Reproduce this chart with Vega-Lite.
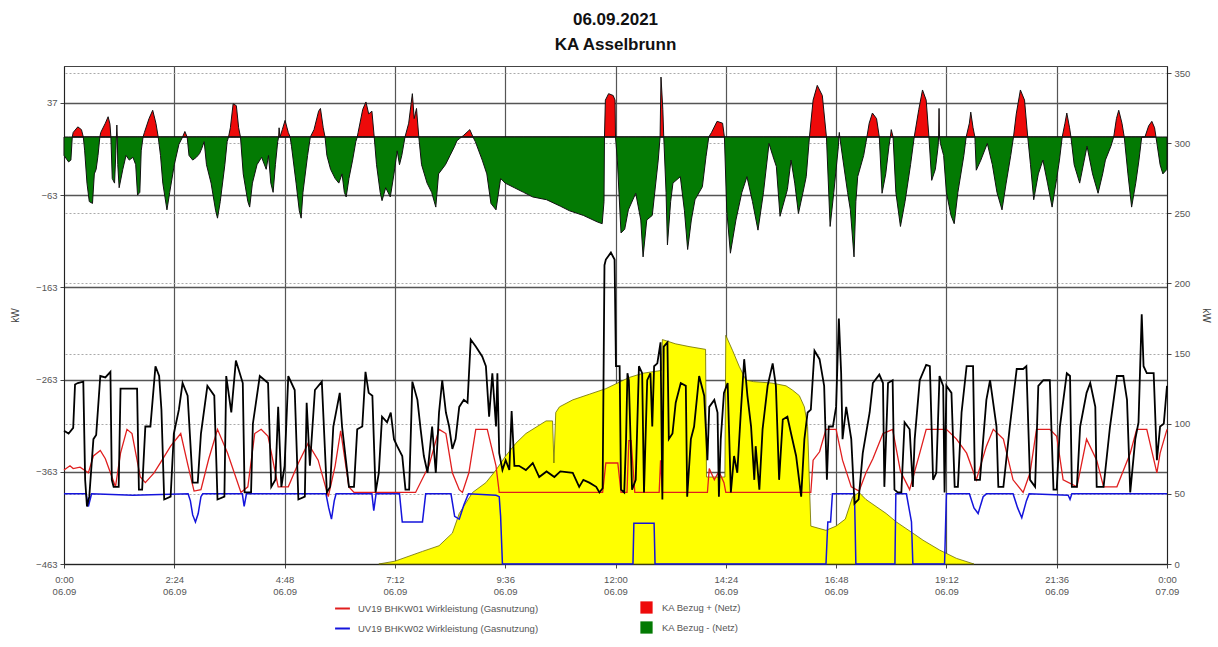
{
"$schema": "https://vega.github.io/schema/vega-lite/v6.json",
"width": 1103, "height": 498,
"autosize": "none",
"padding": {"left": 64, "top": 66, "right": 51, "bottom": 83},
"background": "white",
"config": {"font": "Liberation Sans", "view": {"stroke": "#444", "strokeWidth": 1}},
"title": {"text": "06.09.2021", "subtitle": "KA Asselbrunn", "fontSize": 17, "subtitleFontSize": 17, "fontWeight": "bold", "subtitleFontWeight": "bold", "color": "#111", "subtitleColor": "#111", "anchor": "middle", "offset": 12, "subtitlePadding": 8, "font": "Liberation Sans", "subtitleFont": "Liberation Sans"},
"datasets": {
"bezug": [
{"h":0,"v":-20},{"h":0.1,"v":-27},{"h":0.15,"v":-25},{"h":0.18,"v":0},{"h":0.2,"v":5},{"h":0.3,"v":11},{"h":0.38,"v":8},{"h":0.42,"v":0},{"h":0.45,"v":-15},{"h":0.5,"v":-50},{"h":0.55,"v":-70},{"h":0.62,"v":-72},{"h":0.66,"v":-40},{"h":0.7,"v":-35},{"h":0.74,"v":-20},{"h":0.78,"v":0},{"h":0.8,"v":5},{"h":0.9,"v":15},{"h":0.96,"v":22},{"h":1.0,"v":14},{"h":1.02,"v":0},{"h":1.05,"v":-45},{"h":1.1,"v":-50},{"h":1.13,"v":-15},{"h":1.14,"v":0},{"h":1.15,"v":13},{"h":1.16,"v":0},{"h":1.17,"v":-30},{"h":1.2,"v":-55},{"h":1.28,"v":-35},{"h":1.35,"v":-20},{"h":1.42,"v":-25},{"h":1.5,"v":-22},{"h":1.56,"v":-30},{"h":1.6,"v":-63},{"h":1.65,"v":-60},{"h":1.68,"v":-15},{"h":1.72,"v":0},{"h":1.75,"v":5},{"h":1.85,"v":20},{"h":1.93,"v":29},{"h":2.0,"v":15},{"h":2.05,"v":0},{"h":2.1,"v":-20},{"h":2.15,"v":-50},{"h":2.24,"v":-79},{"h":2.3,"v":-60},{"h":2.4,"v":-30},{"h":2.5,"v":-8},{"h":2.58,"v":0},{"h":2.63,"v":6},{"h":2.68,"v":0},{"h":2.72,"v":-20},{"h":2.8,"v":-25},{"h":2.88,"v":-22},{"h":2.95,"v":-18},{"h":3.0,"v":-12},{"h":3.05,"v":-5},{"h":3.1,"v":-30},{"h":3.2,"v":-50},{"h":3.3,"v":-80},{"h":3.34,"v":-88},{"h":3.4,"v":-70},{"h":3.5,"v":-30},{"h":3.55,"v":-5},{"h":3.58,"v":0},{"h":3.62,"v":10},{"h":3.68,"v":36},{"h":3.75,"v":34},{"h":3.8,"v":10},{"h":3.84,"v":0},{"h":3.9,"v":-40},{"h":4.0,"v":-70},{"h":4.04,"v":-76},{"h":4.1,"v":-50},{"h":4.2,"v":-30},{"h":4.3,"v":-22},{"h":4.4,"v":-35},{"h":4.45,"v":-20},{"h":4.5,"v":-50},{"h":4.55,"v":-60},{"h":4.6,"v":-30},{"h":4.65,"v":-5},{"h":4.67,"v":0},{"h":4.68,"v":10},{"h":4.7,"v":0},{"h":4.75,"v":8},{"h":4.81,"v":18},{"h":4.88,"v":5},{"h":4.92,"v":0},{"h":4.95,"v":-10},{"h":5.05,"v":-50},{"h":5.12,"v":-80},{"h":5.16,"v":-88},{"h":5.2,"v":-60},{"h":5.3,"v":-20},{"h":5.36,"v":0},{"h":5.44,"v":8},{"h":5.54,"v":28},{"h":5.58,"v":31},{"h":5.64,"v":10},{"h":5.68,"v":0},{"h":5.72,"v":-20},{"h":5.8,"v":-35},{"h":5.9,"v":-45},{"h":5.98,"v":-50},{"h":6.05,"v":-40},{"h":6.1,"v":-60},{"h":6.14,"v":-65},{"h":6.2,"v":-45},{"h":6.28,"v":-25},{"h":6.35,"v":-5},{"h":6.38,"v":0},{"h":6.4,"v":5},{"h":6.5,"v":30},{"h":6.57,"v":38},{"h":6.63,"v":25},{"h":6.7,"v":28},{"h":6.75,"v":0},{"h":6.8,"v":-30},{"h":6.88,"v":-60},{"h":6.92,"v":-69},{"h":7.0,"v":-55},{"h":7.1,"v":-65},{"h":7.18,"v":-40},{"h":7.25,"v":-15},{"h":7.3,"v":-30},{"h":7.35,"v":-20},{"h":7.42,"v":0},{"h":7.5,"v":15},{"h":7.58,"v":47},{"h":7.62,"v":20},{"h":7.67,"v":31},{"h":7.72,"v":0},{"h":7.78,"v":-30},{"h":7.9,"v":-50},{"h":8.0,"v":-60},{"h":8.09,"v":-76},{"h":8.15,"v":-40},{"h":8.3,"v":-30},{"h":8.4,"v":-20},{"h":8.5,"v":-10},{"h":8.55,"v":-4},{"h":8.6,"v":-2},{"h":8.65,"v":0},{"h":8.7,"v":2},{"h":8.83,"v":8},{"h":8.9,"v":0},{"h":8.95,"v":-5},{"h":9.1,"v":-25},{"h":9.2,"v":-40},{"h":9.29,"v":-72},{"h":9.4,"v":-79},{"h":9.5,"v":-45},{"h":9.6,"v":-50},{"h":9.8,"v":-55},{"h":10.0,"v":-60},{"h":10.2,"v":-65},{"h":10.5,"v":-68},{"h":10.8,"v":-75},{"h":11.0,"v":-80},{"h":11.3,"v":-85},{"h":11.6,"v":-92},{"h":11.71,"v":-94},{"h":11.75,"v":-70},{"h":11.76,"v":0},{"h":11.78,"v":40},{"h":11.85,"v":47},{"h":11.95,"v":45},{"h":11.99,"v":40},{"h":12.0,"v":0},
{"h":12.04,"v":-25},{"h":12.12,"v":-104},{"h":12.2,"v":-100},{"h":12.28,"v":-79},{"h":12.44,"v":-61},{"h":12.55,"v":-90},{"h":12.6,"v":-130},{"h":12.68,"v":-90},{"h":12.8,"v":-85},{"h":12.93,"v":-25},{"h":12.97,"v":0},{"h":12.99,"v":65},{"h":13.03,"v":30},{"h":13.05,"v":0},{"h":13.1,"v":-60},{"h":13.13,"v":-117},{"h":13.2,"v":-70},{"h":13.25,"v":-50},{"h":13.41,"v":-43},{"h":13.5,"v":-80},{"h":13.57,"v":-122},{"h":13.65,"v":-90},{"h":13.73,"v":-68},{"h":13.89,"v":-54},{"h":13.97,"v":-21},{"h":14.03,"v":0},{"h":14.09,"v":5},{"h":14.21,"v":17},{"h":14.33,"v":15},{"h":14.37,"v":0},{"h":14.42,"v":-79},{"h":14.5,"v":-126},{"h":14.62,"v":-90},{"h":14.75,"v":-60},{"h":14.86,"v":-43},{"h":14.98,"v":-70},{"h":15.1,"v":-101},{"h":15.22,"v":-60},{"h":15.34,"v":-7},{"h":15.42,"v":-20},{"h":15.5,"v":-32},{"h":15.58,"v":-86},{"h":15.74,"v":-57},{"h":15.82,"v":-25},{"h":15.9,"v":-50},{"h":15.98,"v":-83},{"h":16.08,"v":-60},{"h":16.15,"v":-43},{"h":16.22,"v":0},{"h":16.3,"v":40},{"h":16.39,"v":56},{"h":16.5,"v":45},{"h":16.59,"v":0},{"h":16.67,"v":-97},{"h":16.75,"v":-60},{"h":16.85,"v":-10},{"h":16.86,"v":0},{"h":16.87,"v":5},{"h":16.88,"v":0},{"h":16.95,"v":-25},{"h":17.05,"v":-60},{"h":17.11,"v":-79},{"h":17.19,"v":-130},{"h":17.23,"v":-70},{"h":17.27,"v":-43},{"h":17.4,"v":-20},{"h":17.47,"v":0},{"h":17.52,"v":15},{"h":17.59,"v":26},{"h":17.68,"v":20},{"h":17.74,"v":0},{"h":17.8,"v":-61},{"h":17.88,"v":-40},{"h":17.95,"v":-10},{"h":17.98,"v":0},{"h":18.0,"v":8},{"h":18.04,"v":0},{"h":18.1,"v":-60},{"h":18.2,"v":-97},{"h":18.3,"v":-70},{"h":18.42,"v":-30},{"h":18.5,"v":0},{"h":18.6,"v":30},{"h":18.68,"v":51},{"h":18.76,"v":40},{"h":18.82,"v":0},{"h":18.88,"v":-47},{"h":18.96,"v":-35},{"h":19.02,"v":-10},{"h":19.03,"v":0},{"h":19.04,"v":31},{"h":19.05,"v":0},{"h":19.07,"v":-7},{"h":19.14,"v":-20},{"h":19.2,"v":-60},{"h":19.3,"v":-85},{"h":19.37,"v":-94},{"h":19.45,"v":-60},{"h":19.58,"v":-20},{"h":19.63,"v":0},{"h":19.7,"v":15},{"h":19.73,"v":27},{"h":19.78,"v":10},{"h":19.82,"v":0},{"h":19.85,"v":-36},{"h":19.95,"v":-25},{"h":20.09,"v":-7},{"h":20.2,"v":-30},{"h":20.3,"v":-60},{"h":20.41,"v":-79},{"h":20.5,"v":-50},{"h":20.6,"v":-20},{"h":20.66,"v":0},{"h":20.72,"v":25},{"h":20.81,"v":51},{"h":20.9,"v":40},{"h":20.97,"v":0},{"h":21.03,"v":-30},{"h":21.1,"v":-68},{"h":21.2,"v":-40},{"h":21.3,"v":-25},{"h":21.4,"v":-50},{"h":21.5,"v":-76},{"h":21.6,"v":-45},{"h":21.66,"v":-25},{"h":21.72,"v":0},{"h":21.78,"v":15},{"h":21.82,"v":26},{"h":21.88,"v":10},{"h":21.91,"v":0},{"h":21.98,"v":-30},{"h":22.1,"v":-50},{"h":22.2,"v":-25},{"h":22.26,"v":-10},{"h":22.38,"v":-40},{"h":22.5,"v":-61},{"h":22.6,"v":-40},{"h":22.66,"v":-25},{"h":22.78,"v":-10},{"h":22.84,"v":0},{"h":22.9,"v":20},{"h":22.95,"v":29},{"h":23.02,"v":15},{"h":23.07,"v":0},{"h":23.15,"v":-40},{"h":23.23,"v":-76},{"h":23.32,"v":-50},{"h":23.39,"v":-25},{"h":23.45,"v":0},{"h":23.52,"v":0},{"h":23.6,"v":12},{"h":23.67,"v":17},{"h":23.73,"v":10},{"h":23.76,"v":0},{"h":23.85,"v":-30},{"h":23.91,"v":-40},{"h":24.0,"v":-35}
],
"yellow": [
{"h":6.85,"k":0},{"h":7.2,"k":2},{"h":7.8,"k":9},{"h":8.16,"k":13},{"h":8.45,"k":22},{"h":8.6,"k":36},{"h":8.89,"k":51},{"h":9.18,"k":58},{"h":9.4,"k":67},{"h":9.61,"k":77},{"h":9.83,"k":86},{"h":10.05,"k":93},{"h":10.49,"k":102},{"h":10.63,"k":102},{"h":10.66,"k":72},{"h":10.7,"k":108},{"h":10.78,"k":112},{"h":11.07,"k":117},{"h":11.43,"k":121},{"h":11.79,"k":125},{"h":12.3,"k":133},{"h":12.6,"k":136},{"h":13.0,"k":138},{"h":13.02,"k":160},{"h":13.3,"k":157},{"h":13.6,"k":155},{"h":13.96,"k":153},{"h":13.98,"k":62},{"h":14.38,"k":62},{"h":14.4,"k":163},{"h":14.55,"k":152},{"h":14.69,"k":141},{"h":14.84,"k":131},{"h":15.0,"k":130},{"h":15.4,"k":129},{"h":15.71,"k":127},{"h":15.85,"k":124},{"h":16.0,"k":120},{"h":16.11,"k":112},{"h":16.18,"k":98},{"h":16.25,"k":27},{"h":16.58,"k":24},{"h":16.8,"k":27},{"h":17.0,"k":32},{"h":17.16,"k":48},{"h":17.3,"k":51},{"h":17.45,"k":46},{"h":17.67,"k":41},{"h":17.89,"k":36},{"h":18.11,"k":30},{"h":18.47,"k":22},{"h":18.69,"k":17},{"h":19.05,"k":10},{"h":19.42,"k":4},{"h":19.8,"k":0}
],
"blue": [
{"h":0,"k":50},{"h":0.48,"k":50},{"h":0.53,"k":41},{"h":0.6,"k":50},{"h":1.5,"k":49},{"h":2.7,"k":50},{"h":2.75,"k":45},{"h":2.8,"k":35},{"h":2.86,"k":30},{"h":2.92,"k":36},{"h":2.98,"k":48},{"h":3.02,"k":50},{"h":3.88,"k":50},{"h":3.92,"k":41},{"h":3.97,"k":50},{"h":5.7,"k":50},{"h":5.76,"k":40},{"h":5.82,"k":32},{"h":5.88,"k":45},{"h":5.92,"k":50},{"h":6.7,"k":50},{"h":6.74,"k":38},{"h":6.79,"k":50},{"h":7.3,"k":50},{"h":7.36,"k":30},{"h":7.8,"k":30},{"h":7.87,"k":50},{"h":8.42,"k":50},{"h":8.5,"k":34},{"h":8.6,"k":32},{"h":8.7,"k":42},{"h":8.8,"k":50},{"h":9.4,"k":49},{"h":9.47,"k":48},{"h":9.5,"k":34},{"h":9.54,"k":0},{"h":12.38,"k":0},{"h":12.4,"k":29},{"h":12.84,"k":29},{"h":12.86,"k":0},{"h":16.58,"k":0},{"h":16.62,"k":30},{"h":16.68,"k":30},{"h":16.72,"k":50},{"h":17.2,"k":50},{"h":17.23,"k":0},{"h":18.08,"k":0},{"h":18.1,"k":50},{"h":18.33,"k":50},{"h":18.44,"k":30},{"h":18.47,"k":0},{"h":19.16,"k":0},{"h":19.2,"k":50},{"h":19.7,"k":50},{"h":19.8,"k":40},{"h":19.89,"k":36},{"h":20.0,"k":48},{"h":20.07,"k":50},{"h":20.65,"k":50},{"h":20.75,"k":40},{"h":20.84,"k":33},{"h":20.94,"k":45},{"h":21.0,"k":50},{"h":21.85,"k":49},{"h":21.89,"k":46},{"h":21.93,"k":50},{"h":24,"k":50}
],
"red": [
{"h":0,"k":67},{"h":0.13,"k":70},{"h":0.2,"k":68},{"h":0.35,"k":69},{"h":0.53,"k":65},{"h":0.64,"k":77},{"h":0.79,"k":81},{"h":0.9,"k":75},{"h":1.01,"k":65},{"h":1.12,"k":55},{"h":1.23,"k":79},{"h":1.37,"k":96},{"h":1.48,"k":93},{"h":1.66,"k":62},{"h":1.77,"k":58},{"h":1.96,"k":65},{"h":2.15,"k":75},{"h":2.32,"k":84},{"h":2.54,"k":93},{"h":2.7,"k":70},{"h":2.83,"k":52},{"h":2.98,"k":53},{"h":3.15,"k":75},{"h":3.34,"k":96},{"h":3.56,"k":79},{"h":3.85,"k":51},{"h":4.0,"k":55},{"h":4.15,"k":93},{"h":4.29,"k":96},{"h":4.44,"k":91},{"h":4.66,"k":55},{"h":4.88,"k":55},{"h":5.1,"k":72},{"h":5.31,"k":86},{"h":5.53,"k":74},{"h":5.75,"k":48},{"h":5.9,"k":70},{"h":6.02,"k":95},{"h":6.2,"k":55},{"h":6.31,"k":51},{"h":7.65,"k":51},{"h":7.94,"k":70},{"h":8.16,"k":96},{"h":8.31,"k":93},{"h":8.45,"k":65},{"h":8.6,"k":53},{"h":8.67,"k":51},{"h":8.81,"k":65},{"h":8.96,"k":96},{"h":9.21,"k":96},{"h":9.4,"k":70},{"h":9.47,"k":51},{"h":11.72,"k":51},{"h":11.79,"k":72},{"h":12.05,"k":72},{"h":12.12,"k":51},{"h":12.25,"k":51},{"h":12.29,"k":88},{"h":12.34,"k":88},{"h":12.42,"k":51},{"h":12.95,"k":51},{"h":12.98,"k":74},{"h":13.02,"k":51},{"h":14.0,"k":51},{"h":14.04,"k":68},{"h":14.15,"k":60},{"h":14.25,"k":66},{"h":14.36,"k":58},{"h":14.4,"k":51},{"h":16.25,"k":51},{"h":16.3,"k":74},{"h":16.44,"k":80},{"h":16.58,"k":96},{"h":16.8,"k":96},{"h":16.94,"k":74},{"h":17.13,"k":55},{"h":17.3,"k":52},{"h":17.45,"k":65},{"h":17.6,"k":75},{"h":17.82,"k":93},{"h":18.03,"k":96},{"h":18.2,"k":66},{"h":18.4,"k":53},{"h":18.62,"k":79},{"h":18.76,"k":96},{"h":19.2,"k":96},{"h":19.42,"k":89},{"h":19.64,"k":79},{"h":19.85,"k":60},{"h":20.07,"k":84},{"h":20.22,"k":96},{"h":20.44,"k":89},{"h":20.65,"k":60},{"h":20.87,"k":51},{"h":21.02,"k":65},{"h":21.16,"k":96},{"h":21.45,"k":96},{"h":21.6,"k":91},{"h":21.74,"k":60},{"h":22.04,"k":55},{"h":22.25,"k":89},{"h":22.47,"k":74},{"h":22.62,"k":55},{"h":22.91,"k":55},{"h":23.2,"k":79},{"h":23.34,"k":96},{"h":23.56,"k":96},{"h":23.78,"k":65},{"h":23.85,"k":79},{"h":24.0,"k":96}
],
"black": [
{"h":0,"k":95},{"h":0.1,"k":93},{"h":0.2,"k":97},{"h":0.24,"k":128},{"h":0.3,"k":129},{"h":0.42,"k":130},{"h":0.46,"k":60},{"h":0.5,"k":41},{"h":0.55,"k":48},{"h":0.64,"k":89},{"h":0.7,"k":92},{"h":0.79,"k":134},{"h":0.9,"k":133},{"h":1.01,"k":137},{"h":1.04,"k":60},{"h":1.08,"k":55},{"h":1.19,"k":55},{"h":1.23,"k":125},{"h":1.37,"k":125},{"h":1.59,"k":125},{"h":1.63,"k":53},{"h":1.7,"k":53},{"h":1.77,"k":98},{"h":1.88,"k":98},{"h":1.99,"k":141},{"h":2.07,"k":134},{"h":2.12,"k":110},{"h":2.18,"k":46},{"h":2.32,"k":48},{"h":2.39,"k":93},{"h":2.5,"k":110},{"h":2.58,"k":129},{"h":2.69,"k":120},{"h":2.8,"k":58},{"h":2.91,"k":58},{"h":2.98,"k":93},{"h":3.12,"k":127},{"h":3.27,"k":120},{"h":3.34,"k":46},{"h":3.49,"k":48},{"h":3.53,"k":134},{"h":3.64,"k":108},{"h":3.74,"k":145},{"h":3.89,"k":129},{"h":3.93,"k":51},{"h":4.07,"k":51},{"h":4.11,"k":100},{"h":4.26,"k":134},{"h":4.44,"k":129},{"h":4.51,"k":55},{"h":4.6,"k":60},{"h":4.66,"k":112},{"h":4.73,"k":55},{"h":4.8,"k":70},{"h":4.88,"k":134},{"h":5.02,"k":124},{"h":5.1,"k":46},{"h":5.24,"k":48},{"h":5.28,"k":115},{"h":5.35,"k":70},{"h":5.46,"k":124},{"h":5.61,"k":130},{"h":5.72,"k":51},{"h":5.79,"k":55},{"h":5.86,"k":98},{"h":6.0,"k":122},
{"h":6.05,"k":98},{"h":6.2,"k":55},{"h":6.31,"k":55},{"h":6.38,"k":96},{"h":6.49,"k":98},{"h":6.56,"k":137},{"h":6.63,"k":122},{"h":6.71,"k":120},{"h":6.78,"k":51},{"h":6.85,"k":65},{"h":6.92,"k":105},{"h":7.03,"k":101},{"h":7.11,"k":108},{"h":7.18,"k":89},{"h":7.25,"k":84},{"h":7.36,"k":77},{"h":7.43,"k":53},{"h":7.51,"k":53},{"h":7.58,"k":130},{"h":7.69,"k":117},{"h":7.76,"k":96},{"h":7.83,"k":77},{"h":7.91,"k":65},{"h":8.01,"k":98},{"h":8.09,"k":65},{"h":8.16,"k":108},{"h":8.23,"k":131},{"h":8.31,"k":108},{"h":8.38,"k":98},{"h":8.45,"k":82},{"h":8.52,"k":89},{"h":8.6,"k":112},{"h":8.7,"k":117},{"h":8.78,"k":115},{"h":8.85,"k":160},{"h":8.96,"k":155},{"h":9.1,"k":148},{"h":9.18,"k":141},{"h":9.25,"k":105},{"h":9.32,"k":136},{"h":9.4,"k":98},{"h":9.43,"k":136},{"h":9.47,"k":79},{"h":9.54,"k":67},{"h":9.61,"k":74},{"h":9.69,"k":67},{"h":9.74,"k":109},{"h":9.8,"k":70},{"h":9.9,"k":70},{"h":10.05,"k":67},{"h":10.2,"k":72},{"h":10.34,"k":62},{"h":10.5,"k":66},{"h":10.67,"k":62},{"h":10.8,"k":66},{"h":11.07,"k":65},{"h":11.21,"k":55},{"h":11.3,"k":60},{"h":11.43,"k":58},{"h":11.58,"k":55},{"h":11.65,"k":51},{"h":11.72,"k":54},{"h":11.76,"k":213},{"h":11.79,"k":217},{"h":11.9,"k":222},{"h":11.98,"k":217},{"h":12.01,"k":141},{"h":12.09,"k":141},{"h":12.12,"k":53},{"h":12.19,"k":51},{"h":12.23,"k":89},
{"h":12.26,"k":136},{"h":12.29,"k":131},{"h":12.36,"k":53},{"h":12.44,"k":60},{"h":12.51,"k":141},{"h":12.58,"k":136},{"h":12.62,"k":51},{"h":12.69,"k":131},{"h":12.76,"k":136},{"h":12.8,"k":98},{"h":12.84,"k":141},{"h":12.91,"k":143},{"h":12.98,"k":158},{"h":13.02,"k":46},{"h":13.05,"k":155},{"h":13.13,"k":158},{"h":13.16,"k":89},{"h":13.24,"k":93},{"h":13.31,"k":115},{"h":13.42,"k":129},{"h":13.53,"k":127},{"h":13.56,"k":48},{"h":13.64,"k":89},{"h":13.71,"k":98},{"h":13.82,"k":134},{"h":13.93,"k":120},{"h":14.0,"k":74},{"h":14.04,"k":112},{"h":14.15,"k":117},{"h":14.22,"k":108},{"h":14.25,"k":48},{"h":14.29,"k":89},{"h":14.36,"k":122},{"h":14.44,"k":129},{"h":14.51,"k":51},{"h":14.58,"k":77},{"h":14.65,"k":65},{"h":14.73,"k":110},{"h":14.8,"k":146},{"h":14.87,"k":120},{"h":14.95,"k":98},{"h":15.02,"k":60},{"h":15.05,"k":84},{"h":15.13,"k":53},{"h":15.2,"k":96},{"h":15.31,"k":127},{"h":15.42,"k":143},{"h":15.49,"k":127},{"h":15.56,"k":60},{"h":15.64,"k":103},{"h":15.74,"k":105},{"h":15.82,"k":93},{"h":15.93,"k":77},{"h":16.04,"k":48},{"h":16.11,"k":89},{"h":16.18,"k":108},{"h":16.25,"k":110},{"h":16.33,"k":152},{"h":16.44,"k":146},{"h":16.54,"k":127},{"h":16.6,"k":60},{"h":16.64,"k":98},{"h":16.73,"k":98},{"h":16.8,"k":112},{"h":16.86,"k":175},{"h":16.91,"k":136},{"h":16.94,"k":89},{"h":17.02,"k":112},{"h":17.13,"k":89},{"h":17.2,"k":43},{"h":17.29,"k":46},{"h":17.38,"k":79},{"h":17.53,"k":108},{"h":17.6,"k":129},{"h":17.74,"k":135},{"h":17.82,"k":129},{"h":17.85,"k":55},{"h":17.93,"k":129},{"h":18.03,"k":131},
{"h":18.07,"k":53},{"h":18.14,"k":51},{"h":18.22,"k":51},{"h":18.29,"k":101},{"h":18.4,"k":96},{"h":18.47,"k":55},{"h":18.51,"k":89},{"h":18.62,"k":131},{"h":18.76,"k":142},{"h":18.84,"k":141},{"h":18.91,"k":60},{"h":18.98,"k":65},{"h":19.05,"k":134},{"h":19.13,"k":127},{"h":19.16,"k":51},{"h":19.2,"k":127},{"h":19.31,"k":122},{"h":19.38,"k":55},{"h":19.45,"k":55},{"h":19.53,"k":108},{"h":19.64,"k":141},{"h":19.78,"k":141},{"h":19.82,"k":60},{"h":19.93,"k":60},{"h":20.07,"k":117},{"h":20.15,"k":131},{"h":20.29,"k":98},{"h":20.33,"k":55},{"h":20.44,"k":55},{"h":20.58,"k":98},{"h":20.73,"k":139},{"h":20.87,"k":139},{"h":20.94,"k":141},{"h":21.02,"k":60},{"h":21.13,"k":55},{"h":21.2,"k":127},{"h":21.31,"k":131},{"h":21.45,"k":131},{"h":21.53,"k":53},{"h":21.6,"k":53},{"h":21.67,"k":98},{"h":21.82,"k":136},{"h":21.89,"k":134},{"h":21.93,"k":55},{"h":22.04,"k":55},{"h":22.11,"k":98},{"h":22.25,"k":122},{"h":22.33,"k":129},{"h":22.44,"k":112},{"h":22.47,"k":55},{"h":22.62,"k":55},{"h":22.76,"k":98},{"h":22.91,"k":134},{"h":23.05,"k":134},{"h":23.13,"k":117},{"h":23.2,"k":51},{"h":23.31,"k":89},{"h":23.38,"k":101},{"h":23.45,"k":178},{"h":23.49,"k":141},{"h":23.56,"k":136},{"h":23.71,"k":136},{"h":23.78,"k":74},{"h":23.85,"k":98},{"h":23.93,"k":100},{"h":24.0,"k":127}
]
},
"encoding": {
"x": {"field": "h", "type": "quantitative", "scale": {"domain": [0, 24], "nice": false, "zero": false},
"axis": {"title": null, "values": [0, 2.4, 4.8, 7.2, 9.6, 12, 14.4, 16.8, 19.2, 21.6, 24],
"labelExpr": "[(datum.value >= 24 ? '0' : '' + floor(datum.value)) + ':' + (round((datum.value - floor(datum.value)) * 60) < 10 ? '0' : '') + round((datum.value - floor(datum.value)) * 60), datum.value >= 24 ? '07.09' : '06.09']",
"labelFontSize": 9.5, "labelColor": "#555", "labelLineHeight": 12, "labelPadding": 6, "labelFlush": false,
"grid": true, "gridColor": "#555", "gridWidth": 1.2, "domainColor": "#222", "tickColor": "#444", "tickSize": 4}}
},
"layer": [
{
"encoding": {
"y": {"field": "v", "type": "quantitative", "scale": {"domain": [-463, 77], "nice": false, "zero": false},
"axis": {"orient": "left", "title": "kW", "values": [-463, -363, -263, -163, -63, 37], "labelFontSize": 9.5, "labelColor": "#555", "labelPadding": 3, "tickSize": 4, "tickColor": "#444", "domainColor": "#222", "grid": true, "gridColor": "#555", "gridWidth": 1.3, "titleFontSize": 10, "titleFontWeight": "normal", "titleColor": "#444", "titleX": -44, "titleY": 249}},
"y2": {"datum": 0}
},
"layer": [
{"data": {"name": "bezug"}, "transform": [{"filter": "datum.v >= 0"}],
"mark": {"type": "area", "stroke": "#111", "strokeWidth": 1},
"encoding": {"fill": {"datum": "KA Bezug +  (Netz)", "scale": {"domain": ["KA Bezug +  (Netz)", "KA Bezug -  (Netz)"], "range": ["#ee0a0a", "#037a03"]},
"legend": {"title": null, "orient": "none", "legendX": 576, "legendY": 535, "direction": "vertical", "symbolType": "square", "symbolSize": 150, "symbolStrokeWidth": 0, "labelFontSize": 9.5, "labelColor": "#555", "labelLimit": 400, "rowPadding": 7, "labelOffset": 9}}}},
{"data": {"name": "bezug"}, "transform": [{"filter": "datum.v <= 0"}],
"mark": {"type": "area", "stroke": "#111", "strokeWidth": 1},
"encoding": {"fill": {"datum": "KA Bezug -  (Netz)", "scale": {"domain": ["KA Bezug +  (Netz)", "KA Bezug -  (Netz)"], "range": ["#ee0a0a", "#037a03"]},
"legend": {"title": null, "orient": "none", "legendX": 576, "legendY": 535, "direction": "vertical", "symbolType": "square", "symbolSize": 150, "symbolStrokeWidth": 0, "labelFontSize": 9.5, "labelColor": "#555", "labelLimit": 400, "rowPadding": 7, "labelOffset": 9}}}}
]
},
{
"encoding": {
"y": {"field": "k", "type": "quantitative", "scale": {"domain": [0, 355], "nice": false, "zero": false},
"axis": {"orient": "right", "title": "kW", "values": [0, 50, 100, 150, 200, 250, 300, 350], "labelFontSize": 9.5, "labelColor": "#555", "labelPadding": 3, "tickSize": 4, "tickColor": "#444", "domainColor": "#222", "grid": true, "gridColor": "#aaa", "gridDash": [2, 2], "gridWidth": 1, "titleFontSize": 10, "titleFontWeight": "normal", "titleColor": "#444", "titleX": 33, "titleY": 249}}
},
"layer": [
{"data": {"name": "yellow"}, "mark": {"type": "area", "color": "#ffff00", "stroke": "#6b6b00", "strokeWidth": 0.8}, "encoding": {"y2": {"datum": 0}}},
{"data": {"name": "blue"}, "mark": {"type": "line", "strokeWidth": 1.5},
"encoding": {"stroke": {"datum": "UV19 BHKW02 Wirkleistung  (Gasnutzung)", "scale": {"domain": ["UV19 BHKW01 Wirkleistung  (Gasnutzung)", "UV19 BHKW02 Wirkleistung  (Gasnutzung)"], "range": ["#e01e1e", "#1414dc"]},
"legend": {"title": null, "orient": "none", "legendX": 270, "legendY": 534, "direction": "vertical", "symbolType": "stroke", "symbolSize": 220, "symbolStrokeWidth": 2, "labelFontSize": 9.5, "labelColor": "#555", "labelLimit": 400, "rowPadding": 7, "labelOffset": 7}}}},
{"data": {"name": "red"}, "mark": {"type": "line", "strokeWidth": 1.3},
"encoding": {"stroke": {"datum": "UV19 BHKW01 Wirkleistung  (Gasnutzung)", "scale": {"domain": ["UV19 BHKW01 Wirkleistung  (Gasnutzung)", "UV19 BHKW02 Wirkleistung  (Gasnutzung)"], "range": ["#e01e1e", "#1414dc"]},
"legend": {"title": null, "orient": "none", "legendX": 270, "legendY": 534, "direction": "vertical", "symbolType": "stroke", "symbolSize": 220, "symbolStrokeWidth": 2, "labelFontSize": 9.5, "labelColor": "#555", "labelLimit": 400, "rowPadding": 7, "labelOffset": 7}}}},
{"data": {"name": "black"}, "mark": {"type": "line", "color": "#000", "strokeWidth": 1.8}, "encoding": {}}
]
}
],
"resolve": {"scale": {"y": "independent"}}
}
